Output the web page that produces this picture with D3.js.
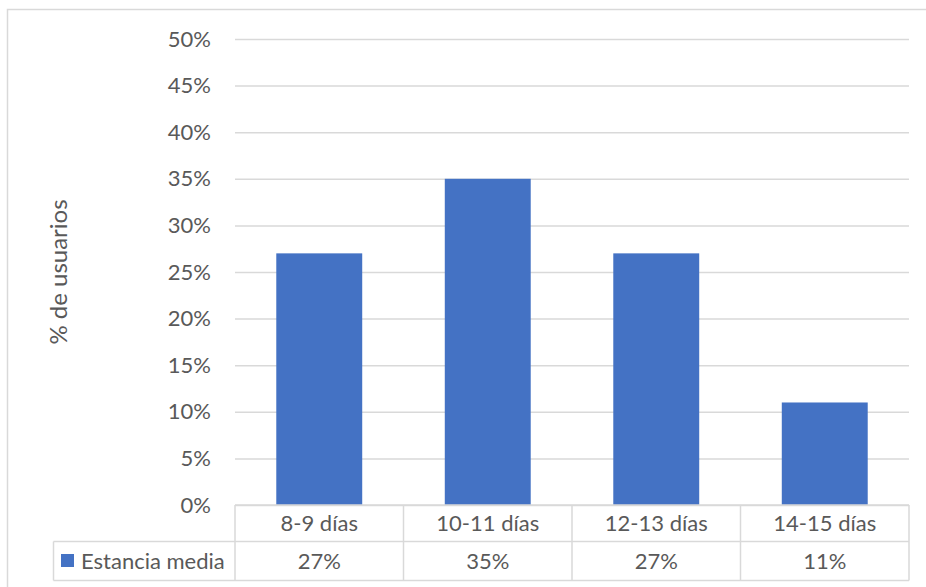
<!DOCTYPE html>
<html>
<head>
<meta charset="utf-8">
<script src="https://cdn.jsdelivr.net/npm/d3@7"></script>
<style>
  html, body { margin: 0; padding: 0; background: #fff; }
  svg { display: block; font-family: Lato, "Open Sans", sans-serif; }
</style>
</head>
<body>
<svg id="chart" width="926" height="587"></svg>
<script>
// Share of users by average length of stay
const categories = ["8-9 días", "10-11 días", "12-13 días", "14-15 días"];
const seriesName = "Estancia media";
const values = [0.27, 0.35, 0.27, 0.11];
const yTicks = [0, 0.05, 0.10, 0.15, 0.20, 0.25, 0.30, 0.35, 0.40, 0.45, 0.50];
const yTitle = "% de usuarios";

const svg = d3.select("#chart");
const textColor = "#595959";
const gridColor = "#D9D9D9";
const barColor = "#4472C4";
const fontSize = 22;

// chart frame
svg.append("rect")
  .attr("x", 7.5).attr("y", 9.5)
  .attr("width", 940).attr("height", 600)
  .attr("fill", "#fff").attr("stroke", gridColor).attr("stroke-width", 1.5);

const plot = { left: 235, right: 909, top: 39, bottom: 505 };

const x = d3.scaleBand()
  .domain(categories)
  .range([plot.left, plot.right])
  .paddingInner(0.49)
  .paddingOuter(0.245);

const y = d3.scaleLinear()
  .domain([0, 0.5])
  .range([plot.bottom, plot.top]);

// gridlines + tick labels
const yAxis = d3.axisLeft(y)
  .tickValues(yTicks)
  .tickFormat(d3.format(".0%"))
  .tickSize(-(plot.right - plot.left))
  .tickPadding(24);

const gy = svg.append("g")
  .attr("transform", `translate(${plot.left},0)`)
  .call(yAxis);
gy.select(".domain").remove();
gy.selectAll(".tick line").attr("stroke", gridColor).attr("stroke-width", 1.5);
gy.selectAll(".tick text")
  .attr("fill", textColor)
  .attr("font-size", fontSize)
  .attr("font-family", "Lato, sans-serif");

// bars
svg.append("g").selectAll("rect")
  .data(values)
  .join("rect")
  .attr("x", (d, i) => x(categories[i]))
  .attr("y", d => y(d))
  .attr("width", x.bandwidth())
  .attr("height", d => y(0) - y(d))
  .attr("fill", barColor);

// axis title
svg.append("text")
  .attr("transform", `translate(67,${(plot.top + plot.bottom) / 2}) rotate(-90)`)
  .attr("text-anchor", "middle")
  .attr("fill", textColor)
  .attr("font-size", 24)
  .text(yTitle);

// data table
const rowTop = plot.bottom, rowMid = 541.5, rowBot = 580.5;
const keyLeft = 53.5;
const table = svg.append("g")
  .attr("stroke", gridColor).attr("stroke-width", 1.5).attr("fill", "none");

const colEdges = categories.map(c => x(c) - x.step() * x.paddingInner() / 2);
colEdges.push(plot.right);

table.append("line").attr("x1", plot.left).attr("x2", plot.right).attr("y1", rowTop).attr("y2", rowTop);
table.append("line").attr("x1", keyLeft).attr("x2", plot.right).attr("y1", rowMid).attr("y2", rowMid);
table.append("line").attr("x1", keyLeft).attr("x2", plot.right).attr("y1", rowBot).attr("y2", rowBot);
table.append("line").attr("x1", keyLeft).attr("x2", keyLeft).attr("y1", rowMid).attr("y2", rowBot);
table.selectAll("line.col")
  .data(colEdges)
  .join("line")
  .attr("class", "col")
  .attr("x1", d => d).attr("x2", d => d)
  .attr("y1", rowTop).attr("y2", rowBot);

// category labels
svg.append("g").selectAll("text")
  .data(categories)
  .join("text")
  .attr("x", d => x(d) + x.bandwidth() / 2)
  .attr("y", (rowTop + rowMid) / 2)
  .attr("dy", "0.35em")
  .attr("text-anchor", "middle")
  .attr("fill", textColor)
  .attr("font-size", fontSize)
  .text(d => d);

// value row
svg.append("g").selectAll("text")
  .data(values)
  .join("text")
  .attr("x", (d, i) => x(categories[i]) + x.bandwidth() / 2)
  .attr("y", (rowMid + rowBot) / 2)
  .attr("dy", "0.35em")
  .attr("text-anchor", "middle")
  .attr("fill", textColor)
  .attr("font-size", fontSize)
  .text(d => d3.format(".0%")(d));

// legend key + series name
svg.append("rect")
  .attr("x", 61).attr("y", 554)
  .attr("width", 13).attr("height", 13)
  .attr("fill", barColor);
svg.append("text")
  .attr("x", 81)
  .attr("y", (rowMid + rowBot) / 2)
  .attr("dy", "0.35em")
  .attr("fill", textColor)
  .attr("font-size", fontSize)
  .text(seriesName);
</script>
</body>
</html>
